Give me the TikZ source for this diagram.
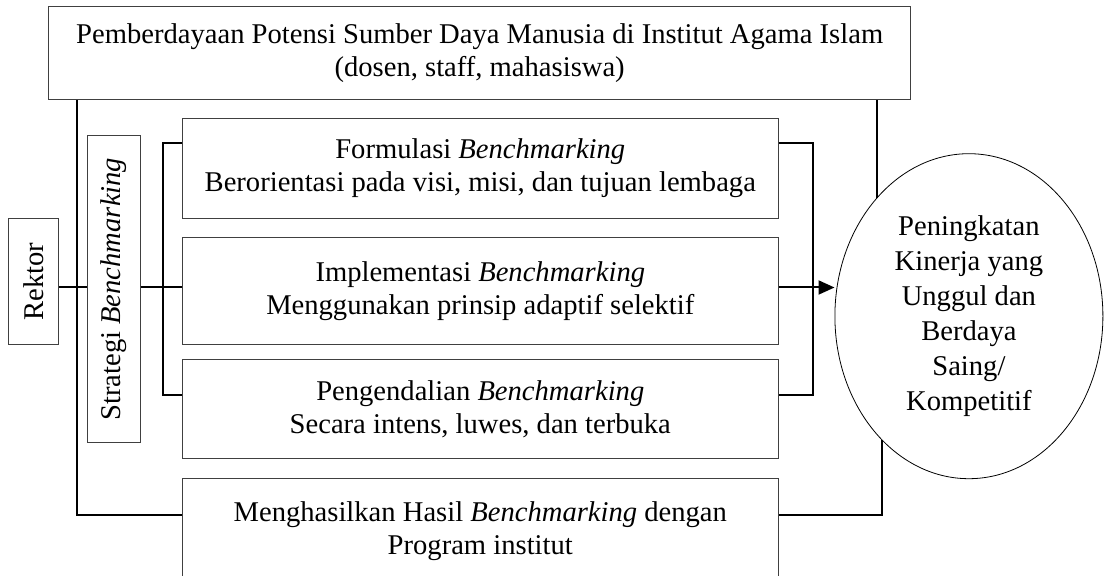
\documentclass[tikz,border=0pt]{standalone}
\usepackage{fontspec}
\setmainfont{Liberation Serif}
\usetikzlibrary{shapes.geometric,arrows.meta}
\tikzset{
  kotak/.style={draw=black!75, line width=0.5pt, rectangle, inner sep=0pt, align=center,
    font={\fontsize{14.3}{16.5}\selectfont}},
  garis/.style={line width=1pt},
}

\begin{document}
\begin{tikzpicture}[x=0.5pt,y=-0.5pt]
\useasboundingbox (0,0) rectangle (1104,576);
\clip (0,0) rectangle (1104,576);

\node[kotak, minimum width=431pt, minimum height=46.5pt] (pemberdayaan) at (479.7,53.5)
  {Pemberdayaan Potensi Sumber Daya Manusia di Institut Agama Islam\\(dosen, staff, mahasiswa)};
\node[kotak, rotate=90, minimum width=63pt, minimum height=24.85pt] (rektor) at (33.8,281.6) {Rektor};
\node[kotak, rotate=90, minimum width=153.8pt, minimum height=26.3pt] (strategi) at (114,289.2)
  {Strategi \textit{Benchmarking}};
\node[kotak, minimum width=298pt, minimum height=49.75pt] (formulasi) at (480.3,168.6)
  {Formulasi \textit{Benchmarking}\\Berorientasi pada visi, misi, dan tujuan lembaga};
\node[kotak, minimum width=298pt, minimum height=53.35pt] (implementasi) at (480.3,291.2)
  {Implementasi \textit{Benchmarking}\\Menggunakan prinsip adaptif selektif};
\node[kotak, minimum width=298pt, minimum height=49.5pt] (pengendalian) at (480.3,409.5)
  {Pengendalian \textit{Benchmarking}\\Secara intens, luwes, dan terbuka};
\node[kotak, minimum width=298pt, minimum height=52.3pt] (hasil) at (480.3,531)
  {Menghasilkan Hasil \textit{Benchmarking} dengan\\Program institut};
\node[draw, ellipse, line width=0.4pt, inner sep=0pt, minimum width=134pt, minimum height=162.5pt,
  align=center, font={\fontsize{14.3}{17.5}\selectfont}] (kinerja) at (968.9,316.2)
  {Peningkatan\\Kinerja yang\\Unggul dan\\Berdaya\\Saing/\\Kompetitif};

\coordinate (tengah) at (0,287.5);
\coordinate (atas) at (0,142.6);
\coordinate (bawah) at (0,395);
\coordinate (sudut) at (77.3,515);

\draw[garis] (rektor.south |- tengah) -- (strategi.north |- tengah);
\draw[garis] (strategi.south |- tengah) -- (implementasi.west |- tengah);
\draw[garis] (formulasi.west |- atas) -- ++(-19,0) |- (pengendalian.west |- bawah);
\draw[garis] (formulasi.east |- atas) -- ++(34.4,0) |- (pengendalian.east |- bawah);
\draw[garis, -{Triangle[length=8pt,width=7pt]}] (implementasi.east |- tengah) -- (kinerja.west |- tengah);
\draw[garis] (pemberdayaan.south -| sudut) |- (hasil.west |- sudut);
\draw[garis] (kinerja.128) -- (kinerja.128 |- pemberdayaan.south);
\draw[garis] (kinerja.235.5) |- (hasil.east |- sudut);
\end{tikzpicture}
\end{document}
